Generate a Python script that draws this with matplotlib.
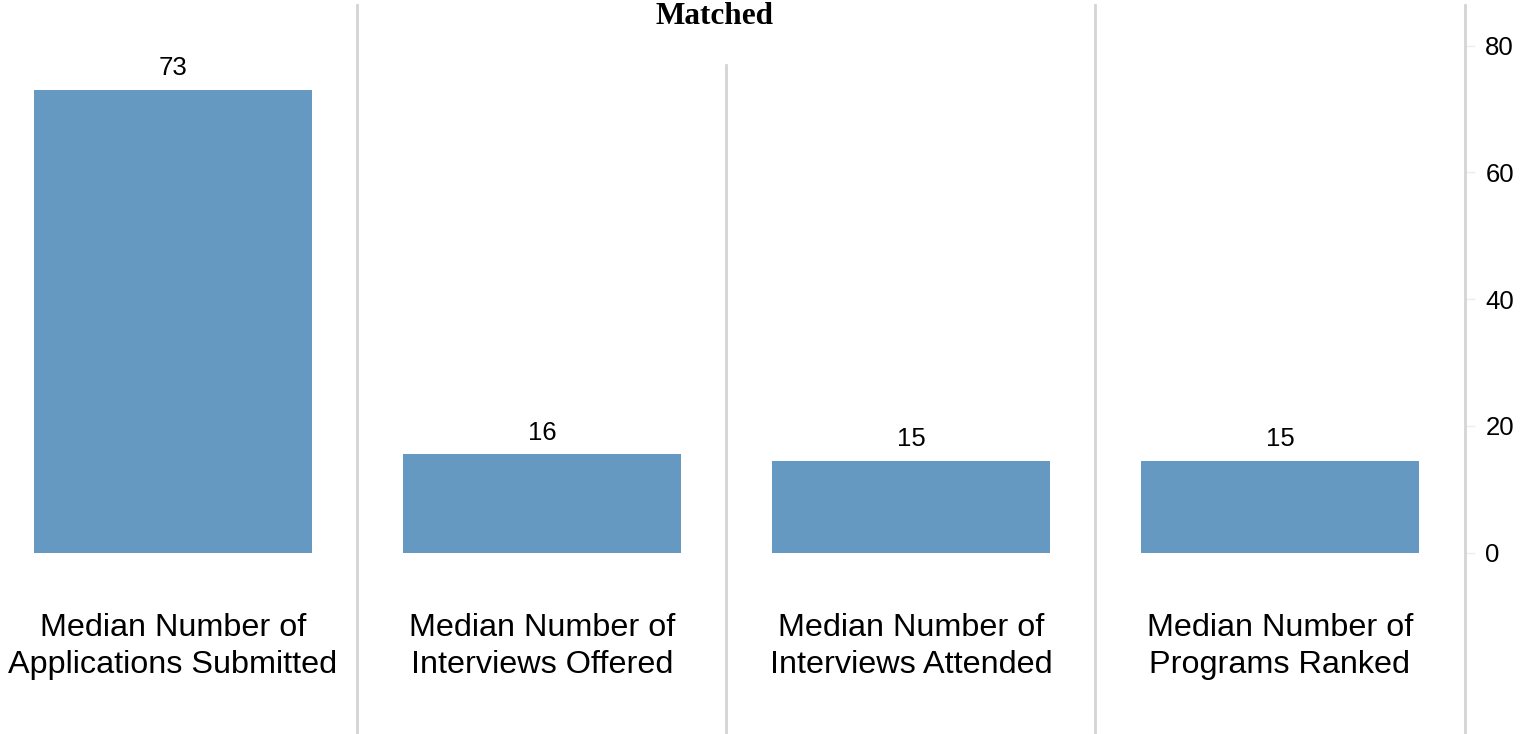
import numpy as np
import matplotlib
matplotlib.use('Agg')
import matplotlib.pyplot as plt

categories = ['Median Number of\nApplications Submitted',
              'Median Number of\nInterviews Offered',
              'Median Number of\nInterviews Attended',
              'Median Number of\nPrograms Ranked']
values = [73, 15.5, 14.5, 14.5]
value_labels = ['73', '16', '15', '15']
yticks = [0, 20, 40, 60, 80]
title = 'Matched'

bar_color = '#6699c2'
sep_color = '#d4d4d4'

plt.rcParams['font.family'] = ['Liberation Sans', 'DejaVu Sans']

fig = plt.figure(figsize=(15.2, 7.34), dpi=100)
ax = fig.add_axes([0, 0, 1464.5 / 1520, 1])

x = np.arange(len(values))
ax.bar(x, values, width=0.753, color=bar_color, zorder=2)

for xi, v, lab in zip(x, values, value_labels):
    ax.annotate(lab, (xi, v), xytext=(0, 7), textcoords='offset points',
                ha='center', va='bottom', fontsize=18.5)

for xi, cat in zip(x, categories):
    ax.text(xi, -14.8, cat, ha='center', va='center', fontsize=23.3,
            linespacing=1.3)

# separators between panels
ax.axvline(0.5, ymin=0, ymax=0.993, color=sep_color, lw=2)
ax.axvline(1.5, ymin=0, ymax=0.911, color=sep_color, lw=2)
ax.axvline(2.5, ymin=0, ymax=0.993, color=sep_color, lw=2)

ax.set_xlim(-0.4688, 3.5)
ax.set_ylim(-28.6, 87.2)

for s in ['top', 'left', 'bottom']:
    ax.spines[s].set_visible(False)
ax.spines['right'].set_color(sep_color)
ax.spines['right'].set_linewidth(2)
ax.spines['right'].set_bounds(-28.6, 86.4)

ax.set_xticks([])
ax.yaxis.tick_right()
ax.set_yticks(yticks)
ax.tick_params(axis='y', length=7, width=1, color='#ececec', labelsize=18.5,
               pad=8)

fig.text(714 / 1520, 1 - 16 / 734, title, ha='center', va='center',
         fontsize=22.5, fontweight='bold', family=['Liberation Serif'])

fig.savefig('out.png', dpi=100)
